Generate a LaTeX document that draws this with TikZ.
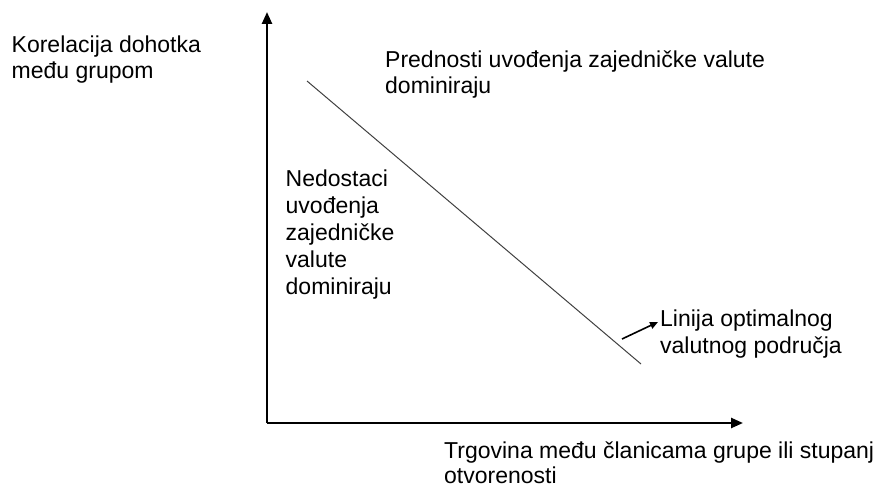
\documentclass[tikz,border=0pt]{standalone}
\usepackage{fontspec}
\setmainfont{Liberation Sans}
\usetikzlibrary{arrows.meta,positioning}

\begin{document}
\begin{tikzpicture}
		[x=1pt,y=-1pt,
		axis line/.style={line width=2.4pt,-{Triangle[length=12pt,width=10pt]}},
		label node/.style={draw=none,fill=none,inner sep=0pt,anchor=base west,align=left,font=\fontsize{23}{26}\selectfont}]
		\useasboundingbox (0,0) rectangle (886,487);
		
		\coordinate (o) at (267,423);
		\coordinate (ytip) at (267,12);
		\coordinate (xtip) at (743,423);
		\coordinate (d1) at (307,81);
		\coordinate (d2) at (641,364);
		\coordinate (p1) at (622,339);
		\coordinate (p2) at (658,322);
		
		% base anchor sits on the last line
		\node[label node] (yname) at (11.5,78) {Korelacija dohotka\\među grupom};
		\node[label node] (plus) at (385,93) {Prednosti uvođenja zajedničke valute\\dominiraju};
		\node[label node,font=\fontsize{23}{26.8}\selectfont] (minus) at (285.5,294) {Nedostaci\\uvođenja\\zajedničke\\valute\\dominiraju};
		\node[label node,font=\fontsize{23}{27}\selectfont] (oca) at (660,353) {Linija optimalnog\\valutnog područja};
		\node[label node,font=\fontsize{23}{25}\selectfont] (xname) at (444,483) {Trgovina među članicama grupe ili stupanj\\otvorenosti};
		
		\draw[axis line] (o) -- (ytip);
		\draw[axis line] (o) -- (xtip);
		\draw[black!75,line width=1pt] (d1) -- (d2);
		\draw[line width=1.6pt,-{Triangle[length=8pt,width=7pt]}] (p1) -- (p2);
		\end{tikzpicture}
\end{document}
